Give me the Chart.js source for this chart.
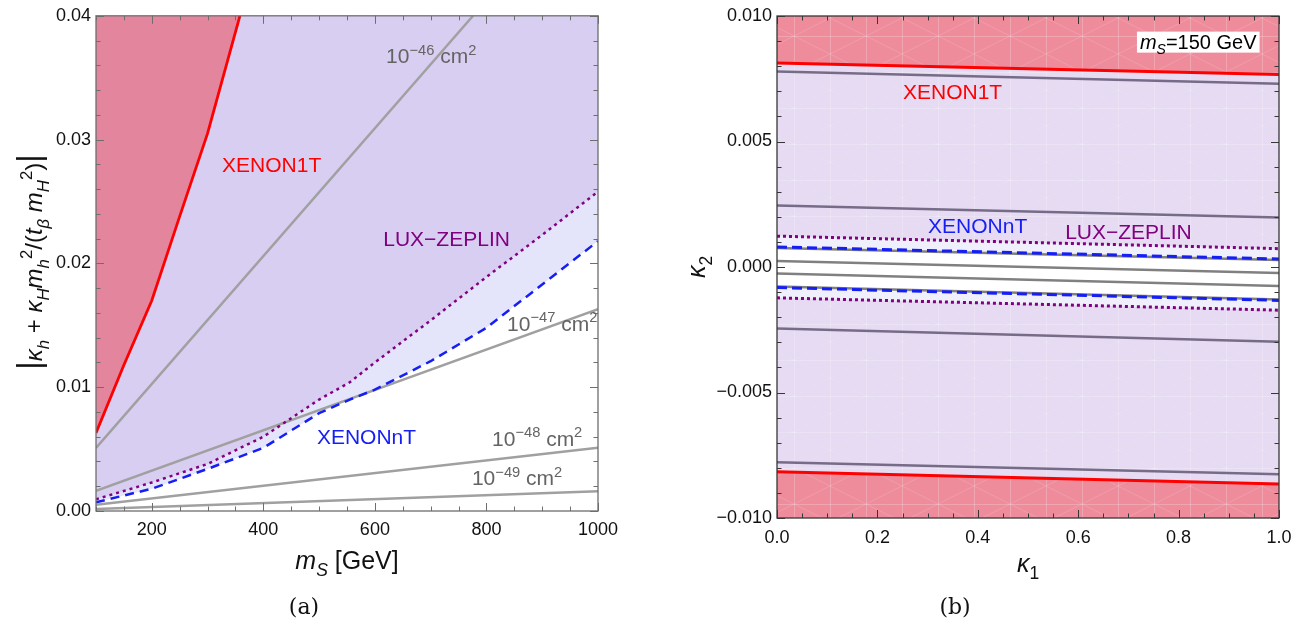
<!DOCTYPE html>
<html>
<head>
<meta charset="utf-8">
<script src="https://cdn.jsdelivr.net/npm/chart.js@4/dist/chart.umd.min.js"></script>
<style>
  html, body { margin: 0; padding: 0; background: #fff; }
  #wrap { position: relative; width: 1313px; height: 629px; }
  .panel { position: absolute; top: 0; height: 629px; }
</style>
</head>
<body>
<div id="wrap">
  <div class="panel" style="left:0;width:650px"><canvas id="chartA"></canvas></div>
  <div class="panel" style="left:650px;width:663px"><canvas id="chartB"></canvas></div>
</div>
<script>
'use strict';

// ---------- panel (a): coupling vs m_S ----------
const ticksMassA = [200, 400, 600, 800, 1000];
const ticksCoupA = [0, 0.01, 0.02, 0.03, 0.04];

const xenon1tMass = [100, 150, 200, 250, 300, 358];
const xenon1tCoup = [0.0063, 0.0118, 0.0170, 0.0238, 0.0305, 0.0400];

const lzMass = [100, 200, 300, 400, 500, 555, 600, 700, 800, 900, 1000];
const lzCoup = [0.00095, 0.0023, 0.0038, 0.0060, 0.0090, 0.0104, 0.0120, 0.0154, 0.0189, 0.0223, 0.0258];

const xnntMass = [100, 200, 300, 400, 500, 555, 600, 700, 800, 900, 1000];
const xnntCoup = [0.0007, 0.0018, 0.0034, 0.0051, 0.0079, 0.0090, 0.0098, 0.0121, 0.0148, 0.0183, 0.0218];

const sigma46Mass = [100, 776];
const sigma46 = [0.0051, 0.0400];
const sigmaMass = [100, 1000];
const sigma47 = [0.00162, 0.0163];
const sigma48 = [0.00051, 0.0051];
const sigma49 = [0.00016, 0.0016];

// ---------- panel (b): kappa2 vs kappa1 at m_S = 150 GeV ----------
const ticksK1 = [0, 0.2, 0.4, 0.6, 0.8, 1.0];
const ticksK2 = [-0.01, -0.005, 0, 0.005, 0.01];

const kappa1 = [0, 1];
const x1tUpper = [0.00813, 0.00767];
const x1tLower = [-0.00816, -0.00865];
const grayOuterUpper = [0.00779, 0.00730];
const grayOuterLower = [-0.00778, -0.00826];
const grayMidUpper = [0.00245, 0.00197];
const grayMidLower = [-0.00245, -0.00298];
const lzUpper = [0.00123, 0.00073];
const lzLower = [-0.00123, -0.00172];
const xnntUpper = [0.00080, 0.00032];
const xnntLower = [-0.00082, -0.00133];
const grayNtUpper = [0.00076, 0.00028];
const grayNtLower = [-0.00078, -0.00129];
const grayInUpper = [0.00024, -0.00024];
const grayInLower = [-0.00026, -0.00076];

const FONT = '"Liberation Sans", Arial, sans-serif';
const pts = (xs, ys) => xs.map((x, i) => ({ x: x, y: ys[i] }));

// rich text: segments [text, mode]; mode letters: i italic, b subscript, p superscript, L large
function rich(ctx, segs, x, y, size, color, align) {
  const parts = segs.map(([t, m = '']) => {
    const small = m.includes('b') || m.includes('p');
    const big = m.includes('L');
    const s = size * (small ? 0.7 : big ? 1.35 : 1);
    const font = (m.includes('i') ? 'italic ' : '') + s.toFixed(1) + 'px ' + FONT;
    ctx.font = font;
    const w = ctx.measureText(t).width;
    const dy = m.includes('b') ? size * 0.28 : m.includes('p') ? -size * 0.42 : big ? -size * 0.1 : 0;
    return { t, font, w, dy };
  });
  const total = parts.reduce((s, p) => s + p.w, 0);
  let cx = align === 'center' ? x - total / 2 : align === 'right' ? x - total : x;
  const x0 = cx;
  ctx.fillStyle = color;
  ctx.textAlign = 'left';
  ctx.textBaseline = 'alphabetic';
  parts.forEach(p => { ctx.font = p.font; ctx.fillText(p.t, cx, y + p.dy); cx += p.w; });
  return { x: x0, w: total };
}

// frame with inward ticks on all four sides
function frameTicks(minorX, minorY, color) {
  return {
    id: 'frameTicks',
    afterDatasetsDraw(chart) {
      const { ctx, chartArea: a, scales } = chart;
      const sx = scales.x, sy = scales.y;
      ctx.save();
      ctx.strokeStyle = color;
      ctx.lineWidth = 1;
      ctx.beginPath();
      const tickX = (v, len) => {
        const p = Math.round(sx.getPixelForValue(v)) + 0.5;
        ctx.moveTo(p, a.bottom); ctx.lineTo(p, a.bottom - len);
        ctx.moveTo(p, a.top); ctx.lineTo(p, a.top + len);
      };
      const tickY = (v, len) => {
        const p = Math.round(sy.getPixelForValue(v)) + 0.5;
        ctx.moveTo(a.left, p); ctx.lineTo(a.left + len, p);
        ctx.moveTo(a.right, p); ctx.lineTo(a.right - len, p);
      };
      const nx = Math.round((sx.max - sx.min) / minorX);
      for (let i = 0; i <= nx; i++) tickX(sx.min + i * minorX, 4.5);
      sx.ticks.forEach(t => tickX(t.value, 8));
      const ny = Math.round((sy.max - sy.min) / minorY);
      for (let i = 0; i <= ny; i++) tickY(sy.min + i * minorY, 4.5);
      sy.ticks.forEach(t => tickY(t.value, 8));
      ctx.stroke();
      ctx.lineWidth = 1.3;
      ctx.strokeRect(a.left, a.top, a.right - a.left, a.bottom - a.top);
      ctx.restore();
    }
  };
}

function axisCfg(min, max, tickVals, fmt, fit, padding) {
  return {
    type: 'linear', min: min, max: max,
    grid: { display: false, drawTicks: false },
    border: { display: false },
    afterBuildTicks: s => { s.ticks = tickVals.map(v => ({ value: v })); },
    afterFit: fit,
    ticks: {
      autoSkip: false, maxRotation: 0, padding: padding,
      color: '#111', font: { family: FONT, size: 18 },
      callback: fmt
    }
  };
}

const line = (data, color, width, dash, order) => ({
  data: data, borderColor: color, borderWidth: width, borderDash: dash || [],
  pointRadius: 0, tension: 0, fill: false, order: order
});
const area = (data, color, fill, order) => ({
  data: data, borderWidth: 0, borderColor: 'rgba(0,0,0,0)', backgroundColor: color,
  pointRadius: 0, tension: 0, fill: fill, order: order
});

const GRAY = 'rgb(160,160,160)';
const GRAYTXT = 'rgb(100,100,100)';
const RED = 'rgb(255,0,0)';
const BLUE = 'rgb(20,30,245)';
const PURPLE = 'rgb(128,0,128)';

// ---------------- chart (a) ----------------
const labelsA = [
  { segs: [['XENON1T']], x: 326, y: 0.02737, color: RED },
  { segs: [['10'], ['−46', 'p'], [' cm'], ['2', 'p']], x: 620, y: 0.03615, color: GRAYTXT },
  { segs: [['LUX−ZEPLIN']], x: 615, y: 0.02139, color: PURPLE },
  { segs: [['10'], ['−47', 'p'], [' cm'], ['2', 'p']], x: 837, y: 0.01452, color: GRAYTXT },
  { segs: [['XENONnT']], x: 496, y: 0.00543, color: BLUE },
  { segs: [['10'], ['−48', 'p'], [' cm'], ['2', 'p']], x: 810, y: 0.00527, color: GRAYTXT },
  { segs: [['10'], ['−49', 'p'], [' cm'], ['2', 'p']], x: 774, y: 0.00207, color: GRAYTXT }
];

const textA = {
  id: 'textA',
  afterDraw(chart) {
    const { ctx, scales: { x, y }, chartArea: a } = chart;
    ctx.save();
    labelsA.forEach(l => rich(ctx, l.segs, x.getPixelForValue(l.x), y.getPixelForValue(l.y), 21, l.color, 'left'));
    rich(ctx, [['m', 'i'], ['S', 'ib'], [' [GeV]']], (a.left + a.right) / 2, 569, 25, '#111', 'center');
    ctx.translate(42, 262);
    ctx.rotate(-Math.PI / 2);
    rich(ctx, [['|', 'L'], ['κ', 'i'], ['h', 'ib'], [' + '], ['κ', 'i'], ['H', 'ib'], ['m', 'i'], ['h', 'ib'], ['2', 'p'],
               ['/('], ['t', 'i'], ['β', 'ib'], [' '], ['m', 'i'], ['H', 'ib'], ['2', 'p'], [')'], ['|', 'L']],
         0, 0, 24, '#111', 'center');
    ctx.restore();
    ctx.save();
    ctx.font = '22px "DejaVu Serif", "Liberation Serif", serif';
    ctx.fillStyle = '#111';
    ctx.textAlign = 'center';
    ctx.fillText('(a)', 304, 614);
    ctx.restore();
  }
};

new Chart(document.getElementById('chartA'), {
  type: 'line',
  data: {
    datasets: [
      area(pts(xnntMass, xnntCoup), 'rgb(228,228,251)', 'end', 10),
      area(pts(lzMass, lzCoup), 'rgb(216,206,241)', 'end', 9),
      area(pts(xenon1tMass, xenon1tCoup), 'rgb(227,134,157)', 'end', 8),
      line(pts(sigma46Mass, sigma46), GRAY, 2.5, null, 5),
      line(pts(sigmaMass, sigma47), GRAY, 2.5, null, 5),
      line(pts(sigmaMass, sigma48), GRAY, 2.5, null, 5),
      line(pts(sigmaMass, sigma49), GRAY, 2.5, null, 5),
      line(pts(lzMass, lzCoup), PURPLE, 2.5, [3, 4], 3),
      line(pts(xnntMass, xnntCoup), BLUE, 2.5, [9, 6], 2),
      line(pts(xenon1tMass, xenon1tCoup), RED, 2.8, null, 1)
    ]
  },
  options: {
    responsive: true, maintainAspectRatio: false, animation: false, events: [],
    layout: { padding: { top: 10, right: 52, left: 0, bottom: 0 } },
    plugins: { legend: { display: false }, tooltip: { enabled: false } },
    scales: {
      x: axisCfg(100, 1000, ticksMassA, v => String(v), s => { s.height = 118; }, 8),
      y: axisCfg(0, 0.04, ticksCoupA, v => v.toFixed(2), s => { s.width = 96; }, 5)
    }
  },
  plugins: [frameTicks(50, 0.002, 'rgb(110,110,110)'), textA]
});

// ---------------- chart (b) ----------------
function meshPattern(base) {
  const c = document.createElement('canvas');
  c.width = 72; c.height = 36;
  const g = c.getContext('2d');
  g.fillStyle = base;
  g.fillRect(0, 0, 72, 36);
  g.strokeStyle = 'rgba(255,255,255,0.22)';
  g.lineWidth = 1;
  g.beginPath();
  g.moveTo(0.5, 0); g.lineTo(0.5, 36);
  g.moveTo(36.5, 0); g.lineTo(36.5, 36);
  g.moveTo(0, 0.5); g.lineTo(72, 0.5);
  g.stroke();
  g.strokeStyle = 'rgba(255,255,255,0.14)';
  g.beginPath();
  g.moveTo(0, 0); g.lineTo(72, 36);
  g.moveTo(0, 36); g.lineTo(72, 0);
  g.stroke();
  return g.createPattern(c, 'repeat');
}

const redMesh = meshPattern('rgb(238,140,156)');
const lavMesh = meshPattern('rgb(230,219,242)');
const DKGRAY = 'rgb(118,108,135)';
const MDGRAY = 'rgb(128,128,128)';

const labelsB = [
  { segs: [['XENON1T']], x: 0.251, y: 0.00671, color: RED },
  { segs: [['XENONnT']], x: 0.301, y: 0.00134, color: BLUE },
  { segs: [['LUX−ZEPLIN']], x: 0.574, y: 0.00110, color: PURPLE }
];

const textB = {
  id: 'textB',
  afterDraw(chart) {
    const { ctx, scales: { x, y }, chartArea: a } = chart;
    ctx.save();
    labelsB.forEach(l => rich(ctx, l.segs, x.getPixelForValue(l.x), y.getPixelForValue(l.y), 21, l.color, 'left'));
    // m_S box
    const bx = x.getPixelForValue(0.723), by = y.getPixelForValue(0.0087);
    const segs = [['m', 'i'], ['S', 'ib'], ['=150 GeV']];
    ctx.globalAlpha = 0;
    const r = rich(ctx, segs, bx, by, 20, '#000', 'left');
    ctx.globalAlpha = 1;
    ctx.fillStyle = '#fff';
    ctx.fillRect(r.x - 3, by - 17, r.w + 6, 21);
    rich(ctx, segs, bx, by, 20, '#000', 'left');
    rich(ctx, [['κ', 'i'], ['1', 'b']], (a.left + a.right) / 2, 572, 25, '#111', 'center');
    ctx.translate(55, (a.top + a.bottom) / 2);
    ctx.rotate(-Math.PI / 2);
    rich(ctx, [['κ', 'i'], ['2', 'b']], 0, 0, 25, '#111', 'center');
    ctx.restore();
    ctx.save();
    ctx.font = '22px "DejaVu Serif", "Liberation Serif", serif';
    ctx.fillStyle = '#111';
    ctx.textAlign = 'center';
    ctx.fillText('(b)', 305, 614);
    ctx.restore();
  }
};

const dsB = [
  line(pts(kappa1, x1tUpper), RED, 3, null, 1),                 // 0
  line(pts(kappa1, x1tLower), RED, 3, null, 1),                 // 1
  area(pts(kappa1, x1tUpper), lavMesh, 1, 12),                  // 2 lavender between red lines
  area(pts(kappa1, lzUpper), 'rgb(240,240,252)', 4, 11),        // 3 LZ band
  area(pts(kappa1, lzLower), 'rgba(0,0,0,0)', false, 11),       // 4
  area(pts(kappa1, xnntUpper), '#ffffff', 6, 10),               // 5 XENONnT band
  area(pts(kappa1, xnntLower), 'rgba(0,0,0,0)', false, 10),     // 6
  area(pts(kappa1, x1tUpper), redMesh, 'end', 9),               // 7
  area(pts(kappa1, x1tLower), redMesh, 'start', 9),             // 8
  line(pts(kappa1, grayOuterUpper), DKGRAY, 2.5, null, 5),
  line(pts(kappa1, grayOuterLower), DKGRAY, 2.5, null, 5),
  line(pts(kappa1, grayMidUpper), DKGRAY, 2.5, null, 5),
  line(pts(kappa1, grayMidLower), DKGRAY, 2.5, null, 5),
  line(pts(kappa1, grayNtUpper), MDGRAY, 2.5, null, 5),
  line(pts(kappa1, grayNtLower), MDGRAY, 2.5, null, 5),
  line(pts(kappa1, grayInUpper), MDGRAY, 2.5, null, 5),
  line(pts(kappa1, grayInLower), MDGRAY, 2.5, null, 5),
  line(pts(kappa1, lzUpper), PURPLE, 3, [3, 3], 3),
  line(pts(kappa1, lzLower), PURPLE, 3, [3, 3], 3),
  line(pts(kappa1, xnntUpper), BLUE, 3, [10, 5], 2),
  line(pts(kappa1, xnntLower), BLUE, 3, [10, 5], 2)
];

const fmtK2 = v => (v < 0 ? '−' : '') + Math.abs(v).toFixed(3);

new Chart(document.getElementById('chartB'), {
  type: 'line',
  data: { datasets: dsB },
  options: {
    responsive: true, maintainAspectRatio: false, animation: false, events: [],
    layout: { padding: { top: 16, right: 34, left: 0, bottom: 0 } },
    plugins: { legend: { display: false }, tooltip: { enabled: false } },
    scales: {
      x: axisCfg(0, 1, ticksK1, v => v.toFixed(1), s => { s.height = 111; }, 9),
      y: axisCfg(-0.01, 0.01, ticksK2, fmtK2, s => { s.width = 127; }, 5)
    }
  },
  plugins: [frameTicks(0.05, 0.001, 'rgb(55,55,55)'), textB]
});
</script>
</body>
</html>
